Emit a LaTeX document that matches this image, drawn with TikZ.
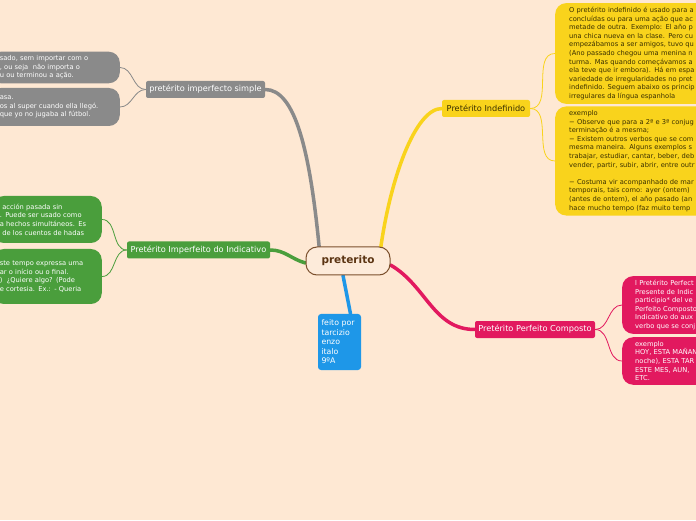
\documentclass[tikz,border=0pt]{standalone}
\usepackage{fontspec}
\setmainfont{DejaVu Sans}
\usetikzlibrary{backgrounds}

\definecolor{bgpeach}{HTML}{FEE8D3}
\definecolor{rootfill}{HTML}{FDEBDA}
\definecolor{rootedge}{HTML}{7B4F2C}
\definecolor{roottext}{HTML}{5B3412}
\definecolor{impgray}{HTML}{8A8A8A}
\definecolor{indgreen}{HTML}{4A9E3C}
\definecolor{indyellow}{HTML}{F9D31C}
\definecolor{yeltext}{HTML}{3A3000}
\definecolor{perpink}{HTML}{E2195F}
\definecolor{byblue}{HTML}{1E97E8}

\begin{document}
\begin{tikzpicture}[x=1pt,y=1pt]
    \tikzstyle{topic}=[rounded corners=2pt, minimum height=17pt, inner sep=2pt, text=white, font=\fontsize{8.2}{9.5}\selectfont]
    \tikzstyle{leaf}=[rounded corners=11pt, inner ysep=4pt, align=left, text=white, font=\fontsize{6.7}{8.6}\selectfont]
    \tikzstyle{left leaf}=[leaf, anchor=east]
    \tikzstyle{right leaf}=[leaf, anchor=west, text width=160pt]
    \tikzstyle{branch}=[line width=3.5pt, line cap=round]
    \tikzstyle{twig}=[line width=0.8pt]

    \useasboundingbox (0,0) rectangle (696,520);

    % central node
    \node[draw=rootedge, fill=rootfill, line width=1pt, rounded corners=11pt, minimum width=84pt, minimum height=28pt, text=roottext, font=\bfseries\fontsize{10.5}{12}\selectfont] (root) at (348,259) {preterito};

    % pretérito imperfecto simple
    \node[topic, fill=impgray, minimum width=119pt] (imp) at (205.5,430.5) {pretérito imperfecto simple};
    \node[left leaf, fill=impgray, inner xsep=10pt, text width=110pt, minimum height=31pt] (imp-1) at (120,452.5) {sado, sem importar com o\\, ou seja~ não importa o\\u ou terminou a ação.};
    \node[left leaf, fill=impgray, inner xsep=10pt, text width=110pt, minimum height=38pt] (imp-2) at (120,413) {asa.\\os al super cuando ella llegó.\\que yo no jugaba al fútbol.};

    % Pretérito Imperfeito do Indicativo
    \node[topic, fill=indgreen, minimum width=143pt] (ind) at (198.5,270) {Pretérito Imperfeito do Indicativo};
    \node[left leaf, fill=indgreen, inner xsep=7pt, text width=95pt, minimum height=47pt] (ind-1) at (102,300.5) {\hspace*{2.5pt}acción pasada sin\\. Puede ser usado como\\a hechos simultáneos. Es\\\hspace*{2.5pt}de los cuentos de hadas};
    \node[left leaf, fill=indgreen, inner xsep=7pt, text width=95pt, minimum height=55pt] (ind-2) at (102,243.5) {ste tempo expressa uma\\ar o início ou o final.\\)~ ¿Quiere algo? (Pode\\e cortesia. Ex.: - Queria};

    % Pretérito Indefinido
    \node[topic, fill=indyellow, text=yeltext, minimum width=88pt] (indef) at (486,411.5) {Pretérito Indefinido};
    \node[right leaf, fill=indyellow, text=yeltext, inner xsep=14pt, minimum height=99pt] (indef-1) at (555,466.5) {O pretérito indefinido é usado para a\\concluídas ou para uma ação que ac\\metade de outra. Exemplo: El año p\\una chica nueva en la clase. Pero cu\\empezábamos a ser amigos, tuvo qu\\(Ano passado chegou uma menina n\\turma. Mas quando começávamos a\\ela teve que ir embora). Há em espa\\variedade de irregularidades no pret\\indefinido. Seguem abaixo os princip\\irregulares da língua espanhola};
    \node[right leaf, fill=indyellow, text=yeltext, inner xsep=14pt, minimum height=106pt] (indef-2) at (555,359) {exemplo\\− Observe que para a 2ª e 3ª conjug\\terminação é a mesma;\\− Existem outros verbos que se com\\mesma maneira. Alguns exemplos s\\trabajar, estudiar, cantar, beber, deb\\vender, partir, subir, abrir, entre outr\\[8.6pt]− Costuma vir acompanhado de mar\\temporais, tais como: ayer (ontem)\\(antes de ontem), el año pasado (an\\hace mucho tempo (faz muito temp};

    % Pretérito Perfeito Composto
    \node[topic, fill=perpink, minimum width=120pt] (perf) at (535,190.5) {Pretérito Perfeito Composto};
    \node[right leaf, fill=perpink, inner xsep=13pt, minimum height=56pt] (perf-1) at (622,215) {l Pretérito Perfect\\Presente de Indic\\participio* del ve\\Perfeito Composto\\Indicativo do aux\\verbo que se conj};
    \node[right leaf, fill=perpink, inner xsep=13pt, minimum height=46pt] (perf-2) at (622,159) {exemplo\\HOY, ESTA MAÑAN\\noche), ESTA TAR\\ESTE MES, AUN,\\ETC.};

    % authors
    \node[fill=byblue, rounded corners=3pt, text=white, align=left, inner xsep=3.5pt, text width=36pt, minimum height=56pt, font=\fontsize{7.8}{9.5}\selectfont] (by) at (339.5,178) {feito por\\tarcizio\\enzo\\italo\\9ºA};

    \begin{scope}[on background layer]
    \fill[bgpeach] (0,0) rectangle (696,520);
    % Draw the main branches
    \draw[branch, impgray] ([xshift=14pt,yshift=-4pt]root.north west) .. controls (310,370) and (295,430.5) .. (imp.east);
    \draw[branch, indgreen] ([yshift=-2pt]root.west) to[out=165,in=0] (ind.east);
    \draw[branch, indyellow] ([xshift=-10pt,yshift=-3pt]root.north east) .. controls (390,340) and (415,411.5) .. (indef.west);
    \draw[branch, perpink] ([yshift=-4pt]root.east) to[out=-30,in=180] (perf.west);
    \draw[branch, byblue] ([xshift=-5pt]root.south) -- ([xshift=11pt]by.north);
    % Draw the twigs
    \draw[twig, impgray] (imp.west) to[out=180,in=0] (imp-1.east);
    \draw[twig, impgray] (imp.west) to[out=180,in=0] (imp-2.east);
    \draw[twig, indgreen] (ind.west) to[out=180,in=0] (ind-1.east);
    \draw[twig, indgreen] (ind.west) to[out=180,in=0] (ind-2.east);
    \draw[twig, indyellow] (indef.east) to[out=0,in=180] (indef-1.west);
    \draw[twig, indyellow] (indef.east) to[out=0,in=180] (indef-2.west);
    \draw[twig, perpink] (perf.east) to[out=0,in=180] (perf-1.west);
    \draw[twig, perpink] (perf.east) to[out=0,in=180] (perf-2.west);
    \end{scope}
\end{tikzpicture}
\end{document}
